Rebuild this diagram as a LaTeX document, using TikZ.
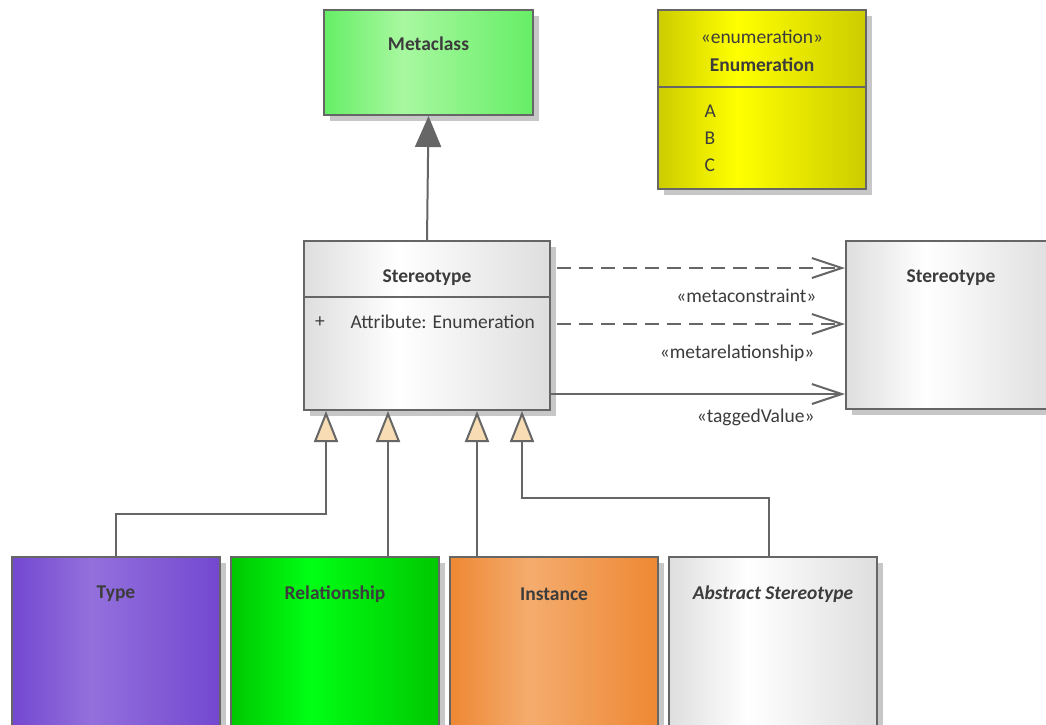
\documentclass[tikz,border=0pt]{standalone}
\usepackage{fontspec}
\setmainfont{Carlito}
\usetikzlibrary{arrows.meta,shadows}

\definecolor{lineC}{HTML}{666666}
\definecolor{txtC}{HTML}{3C3C3C}
\definecolor{beigeC}{HTML}{F8DDB4}
\definecolor{metaL}{HTML}{66EE66}
\definecolor{metaM}{HTML}{A8F8A0}
\definecolor{enumL}{HTML}{CCCC00}
\definecolor{enumM}{HTML}{FFFF00}
\definecolor{stL}{HTML}{DEDEDE}
\definecolor{stM}{HTML}{FFFFFF}
\definecolor{typeL}{HTML}{7348D0}
\definecolor{typeM}{HTML}{9370DC}
\definecolor{relL}{HTML}{00C800}
\definecolor{relM}{HTML}{00FF14}
\definecolor{insL}{HTML}{EE8833}
\definecolor{insM}{HTML}{F4AC6E}

% light band a bit left of the middle
\newcommand{\mkshade}[1]{%
  \pgfdeclarehorizontalshading{#1S}{100bp}{color(0bp)=(#1L); color(25bp)=(#1L);
    color(44bp)=(#1M); color(75bp)=(#1L); color(100bp)=(#1L)}}
\mkshade{meta}\mkshade{enum}\mkshade{st}\mkshade{type}\mkshade{rel}\mkshade{ins}

\begin{document}
\begin{tikzpicture}[x=1pt,y=-1pt,
    font=\fontsize{19.5}{23}\selectfont, text=txtC,
    box/.style={draw=lineC, line width=2pt, inner sep=0pt, anchor=north west,
        drop shadow={shadow xshift=6pt,shadow yshift=-6pt,fill=black!22,opacity=1}},
    fillc/.style={shade, shading=#1S},
    ttl/.style={font=\fontsize{19.5}{23}\selectfont\bfseries},
    gen/.style={draw=lineC, line width=2pt, -{Triangle[fill=beigeC,length=31pt,width=24pt]}},
    dep/.style={draw=lineC, line width=2pt, -{Straight Barb[length=30pt,width=20pt]}}
]
    \useasboundingbox[fill=white] (0,0) rectangle (1046,724);

    % boxes
    \node[box, fillc=meta, minimum width=209pt, minimum height=105pt] (meta) at (323,9) {};
    \node[box, fillc=enum, minimum width=208pt, minimum height=179pt] (enum) at (657,9) {};
    \node[box, fillc=st, minimum width=246pt, minimum height=169pt] (st) at (303,240) {};
    \node[box, fillc=st, minimum width=210pt, minimum height=168pt] (st2) at (845,240) {};
    \node[box, fillc=type, minimum width=208pt, minimum height=190pt] (ty) at (11,556) {};
    \node[box, fillc=rel, minimum width=208pt, minimum height=190pt] (rel) at (230,556) {};
    \node[box, fillc=ins, minimum width=208pt, minimum height=190pt] (ins) at (449,556) {};
    \node[box, fillc=st, minimum width=208pt, minimum height=190pt] (ab) at (668,556) {};

    % compartments
    \draw[draw=lineC, line width=2pt] ([yshift=-78pt]enum.north west) -- ([yshift=-78pt]enum.north east);
    \draw[draw=lineC, line width=2pt] ([yshift=-57pt]st.north west) -- ([yshift=-57pt]st.north east);

    % texts
    \node[ttl] (metaT) at ([yshift=-35pt]meta.north) {Metaclass};
    \node (enumS) at ([yshift=-28pt]enum.north) {«enumeration»};
    \node[ttl] (enumT) at ([yshift=-56pt]enum.north) {Enumeration};
    \foreach \v [count=\i] in {A,B,C}
        \node[anchor=west] (lit\i) at ([xshift=44pt,yshift={-75pt-27pt*\i}]enum.north west) {\v};
    \node[ttl] (stT) at ([yshift=-38pt]st.north) {Stereotype};
    \node (plus) at ([xshift=17pt,yshift=-82pt]st.north west) {+};
    \node[anchor=west] (attr) at ([xshift=44pt,yshift=-82pt]st.north west) {Attribute: Enumeration};
    \node[ttl] (st2T) at ([yshift=-38pt]st2.north) {Stereotype};
    \node[ttl] (tyT) at ([yshift=-38pt]ty.north) {Type};
    \node[ttl] (relT) at ([yshift=-38pt]rel.north) {Relationship};
    \node[ttl] (insT) at ([yshift=-38pt]ins.north) {Instance};
    \node[ttl] (abT) at ([yshift=-38pt]ab.north) {\itshape Abstract Stereotype};

    % connectors
    \draw[draw=lineC, line width=2pt, -{Triangle[fill=lineC,length=31pt,width=26pt]}] (st.north) -- (meta.south);
    \draw[dep, dash pattern=on 14pt off 8pt] ([xshift=6pt,yshift=-28pt]st.north east) -- ([yshift=-28pt]st2.north west);
    \draw[dep, dash pattern=on 14pt off 8pt] ([xshift=6pt,yshift=-84pt]st.north east) -- ([yshift=-84pt]st2.north west);
    \draw[dep] ([yshift=-154pt]st.north east) -- ([yshift=-154pt]st2.north west);
    \node[anchor=east] (lbl1) at ([xshift=-25pt,yshift=-56pt]st2.north west) {«metaconstraint»};
    \node[anchor=east] (lbl2) at ([xshift=-27pt,yshift=-113pt]st2.north west) {«metarelationship»};
    \node[anchor=east] (lbl3) at ([xshift=-27pt,yshift=-177pt]st2.north west) {«taggedValue»};

    \draw[gen] (ty.north) -- ++(0,-42) -| ([xshift=23pt]st.south west);
    \draw[gen] ([xshift=53pt]rel.north) -- ([xshift=53pt]rel.north |- st.south);
    \draw[gen] ([xshift=-77pt]ins.north) -- ([xshift=-77pt]ins.north |- st.south);
    \draw[gen] ([xshift=-4pt]ab.north) -- ++(0,-58) -| ([xshift=219pt]st.south west);
\end{tikzpicture}
\end{document}
